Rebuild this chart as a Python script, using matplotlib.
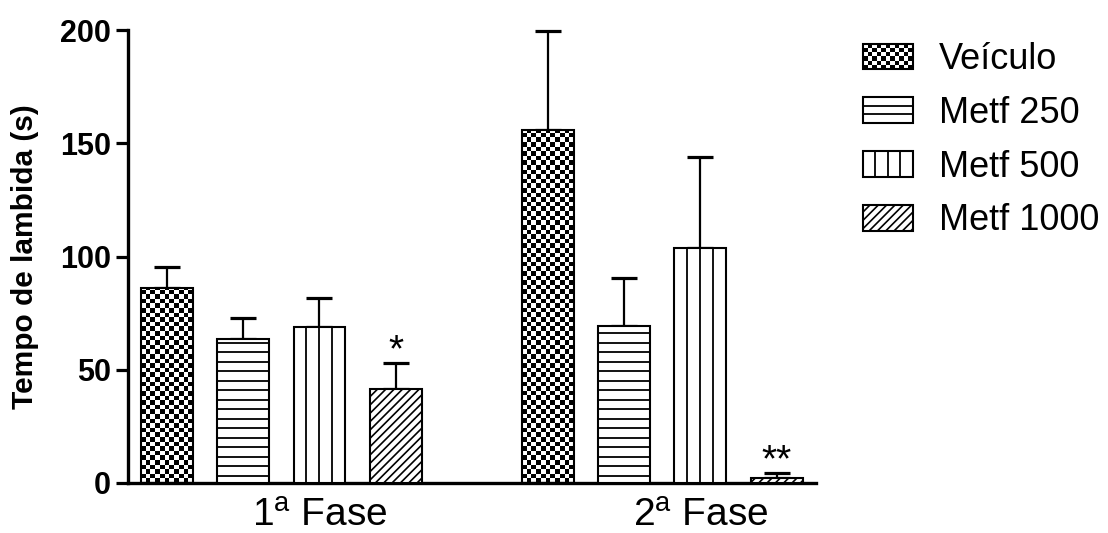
import numpy as np
import matplotlib
matplotlib.use('Agg')
import matplotlib.pyplot as plt
from matplotlib.patches import Rectangle, Patch
from matplotlib.collections import PatchCollection
from matplotlib.lines import Line2D
from matplotlib.legend_handler import HandlerBase
from matplotlib.colors import ListedColormap

plt.rcParams['font.family'] = ['Liberation Sans', 'DejaVu Sans']
plt.rcParams['mathtext.fontset'] = 'custom'
plt.rcParams['mathtext.rm'] = 'Liberation Sans'
plt.rcParams['mathtext.it'] = 'Liberation Sans:italic'
plt.rcParams['mathtext.bf'] = 'Liberation Sans:bold'
plt.rcParams['hatch.linewidth'] = 1.2

# ---------------- data ----------------
phases = [r'1$^{\mathrm{a}}$ Fase', r'2$^{\mathrm{a}}$ Fase']
groups = ['Veículo', 'Metf 250', 'Metf 500', 'Metf 1000']
veiculo_mean = [86.0, 156.0]
veiculo_sem = [9.4, 43.5]
metf250_mean = [63.6, 69.3]
metf250_sem = [9.2, 21.2]
metf500_mean = [69.0, 103.7]
metf500_sem = [12.7, 40.3]
metf1000_mean = [41.5, 2.2]
metf1000_sem = [11.5, 2.2]
metf1000_signif = ['*', '**']
yticks = [0, 50, 100, 150, 200]
ylabel = 'Tempo de lambida (s)'

means = [veiculo_mean, metf250_mean, metf500_mean, metf1000_mean]
sems = [veiculo_sem, metf250_sem, metf500_sem, metf1000_sem]
kinds = ['checker', 'hlines', 'vlines', 'diag']

# ---------------- figure ----------------
W, H = 1108, 533
fig = plt.figure(figsize=(W / 100, H / 100), dpi=100)
ax_l, ax_r, ax_t, ax_b = 128, 816, 30, 483
ax = fig.add_axes([ax_l / W, (H - ax_b) / H, (ax_r - ax_l) / W, (ax_b - ax_t) / H])
xlim = (-0.512, 8.517)
ax.set_xlim(*xlim)
ax.set_ylim(0, 200)
px_x = (ax_r - ax_l) / (xlim[1] - xlim[0])
px_y = (ax_b - ax_t) / 200.0

bar_w = 0.68
group_gap = 5
checker_cmap = ListedColormap(['white', 'black'])

for i, (m, s, kind) in enumerate(zip(means, sems, kinds)):
    xs = [p * group_gap + i for p in range(len(phases))]
    ax.errorbar(xs, m, yerr=[np.zeros(len(m)), s], fmt='none', ecolor='black',
                elinewidth=1.6, capsize=9.7, capthick=2.3, zorder=1, clip_on=False)
    if kind == 'checker':
        bars = ax.bar(xs, m, bar_w, facecolor='none', edgecolor='black', linewidth=1.5, zorder=3)
        for b in bars:
            x0, w, h = b.get_x(), b.get_width(), b.get_height()
            nx = max(1, int(round(w * px_x / 4.6)))
            sy = 4.6 / px_y
            ny = int(np.ceil(h / sy))
            arr = np.indices((ny, nx)).sum(0) % 2
            im = ax.imshow(arr, cmap=checker_cmap, vmin=0, vmax=1, extent=[x0, x0 + w, 0, ny * sy],
                           origin='lower', interpolation='nearest', aspect='auto', zorder=2)
            im.set_clip_path(b)
    elif kind == 'hlines':
        bars = ax.bar(xs, m, bar_w, facecolor='white', edgecolor='black', linewidth=1.5, zorder=3)
        step = 9.5 / px_y
        for b in bars:
            x0, w, h = b.get_x(), b.get_width(), b.get_height()
            ys = np.arange(step * 0.75, h - step * 0.3, step)
            ax.hlines(ys, x0, x0 + w, colors='black', linewidth=1.3, zorder=3.5)
    elif kind == 'vlines':
        bars = ax.bar(xs, m, bar_w, facecolor='white', edgecolor='black', linewidth=1.5, zorder=3)
        for b in bars:
            x0, w, h = b.get_x(), b.get_width(), b.get_height()
            ax.vlines([x0 + w * k / 4 for k in (1, 2, 3)], 0, h, colors='black', linewidth=1.3, zorder=3.5)
    else:
        bars = ax.bar(xs, m, bar_w, facecolor='white', edgecolor='black', linewidth=1.5,
                      hatch='////', zorder=3)
        for x, mv, sv, sig in zip(xs, m, s, metf1000_signif):
            ax.text(x, mv + sv + 0.8, sig, ha='center', va='baseline', fontsize=28)

ax.set_xlim(*xlim)
ax.set_ylim(0, 200)

for side in ('top', 'right'):
    ax.spines[side].set_visible(False)
for side in ('left', 'bottom'):
    ax.spines[side].set_linewidth(2.4)

ax.set_yticks(yticks)
ax.tick_params(axis='y', length=8.6, width=2.3, labelsize=22, pad=3.6)
for lbl in ax.get_yticklabels():
    lbl.set_fontweight('bold')
centers = [p * group_gap + 2 for p in range(len(phases))]
ax.set_xticks(centers)
ax.set_xticklabels(phases, fontsize=28)
ax.tick_params(axis='x', length=0, pad=10.5)

ax.set_ylabel(ylabel, fontsize=21.5, fontweight='bold')
ax.yaxis.set_label_coords(-0.129, 0.5)


class TextureHandler(HandlerBase):
    def __init__(self, kind, **kw):
        super().__init__(**kw)
        self.kind = kind

    def create_artists(self, legend, orig_handle, xdescent, ydescent, width, height, fontsize, trans):
        x0, y0 = -xdescent, -ydescent
        arts = [Rectangle((x0, y0), width, height, facecolor='white', edgecolor='none', transform=trans)]
        if self.kind == 'checker':
            nx = 11
            ny = max(1, int(round(height / width * nx)))
            sx, sy = width / nx, height / ny
            cells = [Rectangle((x0 + a * sx, y0 + b * sy), sx, sy)
                     for a in range(nx) for b in range(ny) if (a + b) % 2 == 0]
            arts.append(PatchCollection(cells, facecolor='black', edgecolor='none', transform=trans))
        elif self.kind == 'hlines':
            for k in (1, 2):
                yy = y0 + k * height / 3
                arts.append(Line2D([x0, x0 + width], [yy, yy], color='black', lw=1.3, transform=trans))
        elif self.kind == 'vlines':
            for k in (1, 2, 3):
                xx = x0 + k * width / 4
                arts.append(Line2D([xx, xx], [y0, y0 + height], color='black', lw=1.3, transform=trans))
        else:
            arts.append(Rectangle((x0, y0), width, height, facecolor='white', edgecolor='black',
                                  hatch='////', linewidth=0, transform=trans))
        arts.append(Rectangle((x0, y0), width, height, facecolor='none', edgecolor='black',
                              linewidth=1.5, transform=trans))
        return arts


handles = [Patch(label=g) for g in groups]
hmap = {h: TextureHandler(k) for h, k in zip(handles, kinds)}
fig.legend(handles, groups, handler_map=hmap, loc='upper left',
           bbox_to_anchor=(863 / W, 1 - 42 / H), frameon=False, fontsize=26,
           handlelength=1.38, handleheight=0.72, handletextpad=0.72, labelspacing=0.52,
           borderpad=0, borderaxespad=0)

fig.savefig('out.png', dpi=100)
